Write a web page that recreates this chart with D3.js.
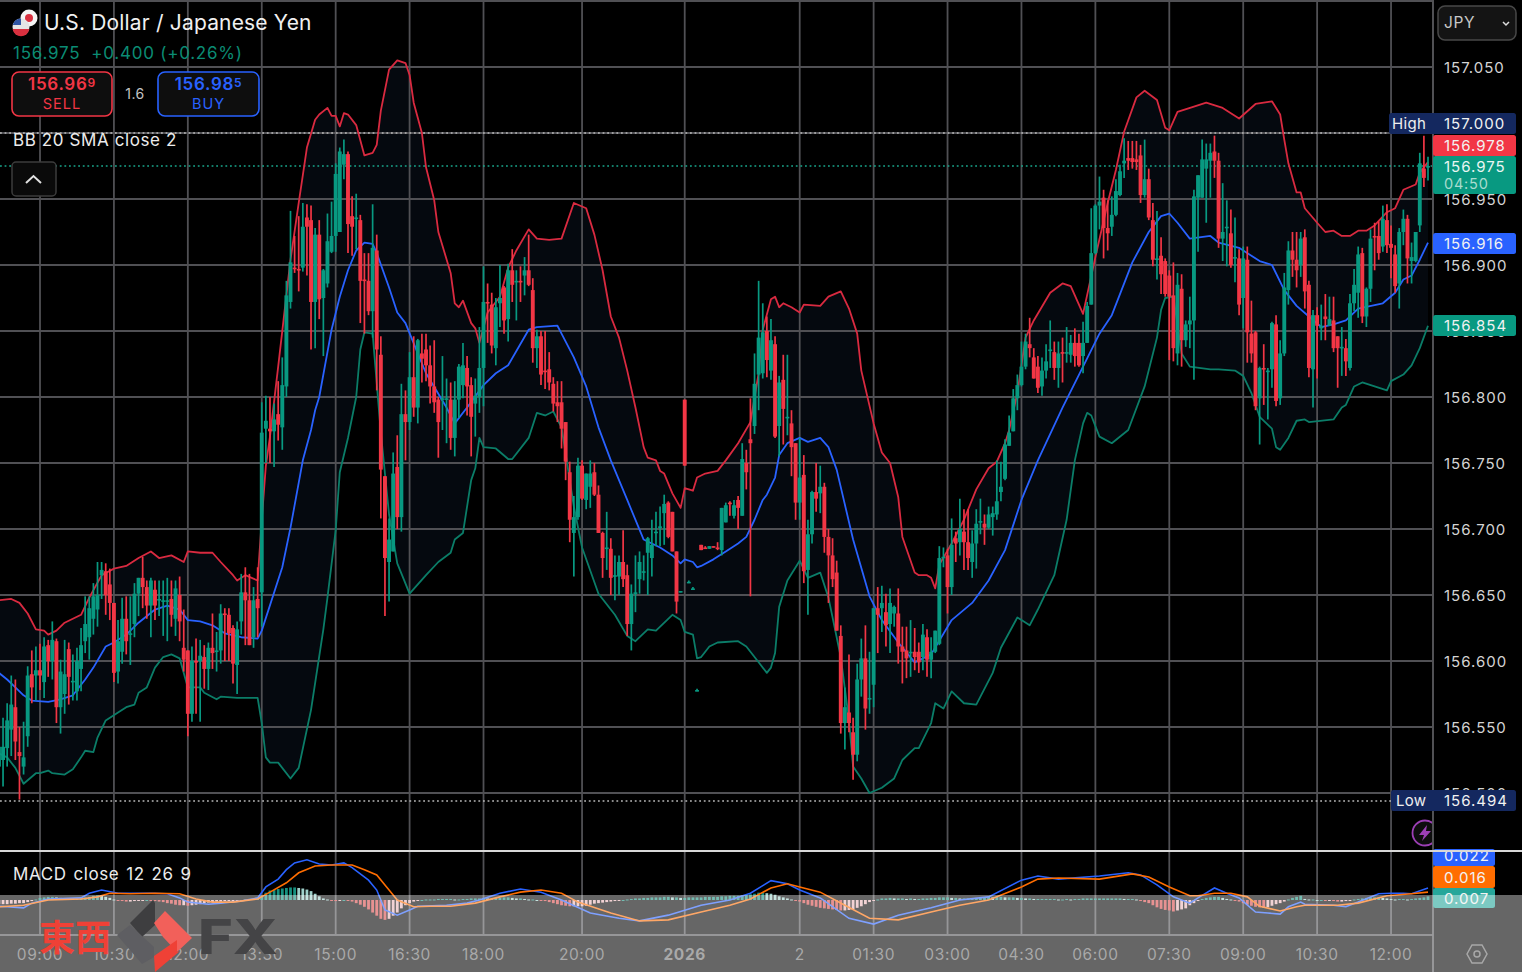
<!DOCTYPE html>
<html>
<head>
<meta charset="utf-8">
<title>USD/JPY</title>
<script src="https://cdn.jsdelivr.net/npm/d3@7"></script>
<style>
  html, body { margin: 0; padding: 0; background: #000; }
  svg { display: block; font-family: Inter, "Noto Sans", sans-serif; }
</style>
</head>
<body>
<svg id="chart" width="1522" height="972"></svg>
<script>
// Prices are kept in points above 156 yen (825 = 156.825), one bar = 5 minutes
const opens = [
  520,525,534,548,565,531,520,543,590,589, 593,584,612,600,615,565,575,609,584,577,
  594,615,618,632,639,665,668,658,644,592, 607,632,620,628,651,663,656,642,654,646,
  645,645,647,632,650,610,608,560,600,600, 603,594,610,607,608,636,635,625,597,630,
  652,646,618,647,652,776,776,774,787,777, 808,872,898,897,898,936,934,872,923,875,
  886,910,922,925,976,984,937,935,934,889, 888,865,911,832,740,675,683,747,709,787,
  781,815,792,833,836,824,808,798,798,798, 798,769,798,809,822,809,795,800,822,872,
  870,837,871,883,859,896,887,888,892,896, 881,837,846,820,821,810,796,796,781,743,
  697,709,748,722,732,743,726,697,685,685, 664,664,675,665,628,651,662,667,682,678,
  697,701,712,720,713,683,652,798,659,654, 577,688,686,685,687,686,684,705,720,710,
  722,710,750,768,778,817,818,850,820,840, 778,813,784,780,765,720,741,669,696,728,
  727,732,694,680,667,619,553,561,546,529, 586,602,571,582,640,640,637,628,636,636,
  611,608,606,607,607,603,618,601,607,613, 678,680,656,693,690,698,690,675,689,705,
  704,701,709,711,728,738,763,774,799,809, 823,840,830,823,808,820,835,834,822,834,
  833,832,841,841,831,841,870,909,945,951, 928,929,938,953,977,981,981,980,983,953,
  965,934,904,907,903,892,877,833,882,843, 855,858,951,951,973,979,986,979,920,928,
  924,905,905,875,904,848,849,799,822,819, 821,855,799,833,881,911,904,900,921,885,
  821,862,852,861,854,858,846,837,837,822, 871,879,909,861,882,922,922,914,934,916,
  908,886,925,935,903,903,930,973,974
];
const closes = [
  535,535,555,567,539,528,527,589,580,593, 589,611,600,616,565,592,590,588,585,600,
  612,628,640,649,650,669,650,644,591,615, 632,615,621,651,663,656,642,661,642,647,
  646,646,635,655,630,601,560,600,599,604, 594,610,606,608,636,635,621,598,624,652,
  646,612,646,640,773,782,774,783,779,809, 877,902,897,896,929,929,872,923,874,896,
  918,922,969,986,984,931,929,936,888,888, 865,913,836,745,678,692,742,709,787,781,
  815,792,843,829,824,808,796,781,799,799, 769,798,823,824,808,785,801,822,872,871,
  839,868,875,858,896,885,888,887,896,885, 837,846,817,819,811,795,793,776,751,707,
  709,748,723,742,742,726,697,678,686,663, 665,675,662,628,651,652,675,668,693,688,
  698,702,719,694,683,645,653,748,660,655, 578,684,685,687,686,685,716,718,719,718,
  716,753,743,765,810,845,849,828,843,770, 811,791,785,762,720,739,668,696,728,723,
  732,694,680,662,623,553,565,553,529,586, 602,564,572,640,635,644,627,644,641,611,
  607,602,607,603,599,620,601,607,623,678, 679,656,688,689,700,690,678,689,704,706,
  701,711,712,721,732,764,773,799,809,823, 842,837,814,807,820,827,836,822,833,833,
  834,841,831,824,841,869,909,945,948,928, 924,938,956,971,979,979,978,978,953,965,
  936,904,905,893,878,876,837,885,843,855, 858,952,968,980,980,985,979,920,925,929,
  900,906,870,905,849,833,793,822,821,820, 856,797,833,883,911,904,896,920,880,822,
  862,854,854,859,859,837,837,838,827,871, 885,908,861,882,920,921,909,935,915,913,
  884,925,935,905,906,925,977,966,975
];
const highs = [
  555,557,568,589,586,550,554,596,608,611, 613,618,616,630,617,601,616,614,605,610,
  625,649,649,659,675,675,674,670,644,631, 648,649,649,659,663,679,661,663,661,661,
  661,663,661,661,664,639,608,611,617,616, 612,614,636,622,643,640,640,627,630,666,
  671,666,656,671,796,801,800,795,812,830, 888,941,922,937,947,946,945,928,934,897,
  939,948,977,989,995,986,952,954,938,909, 909,946,923,846,740,708,758,771,810,805,
  834,846,844,848,848,839,843,800,831,814, 811,812,825,841,831,815,814,853,899,886,
  879,875,900,884,901,912,896,899,906,923, 890,851,850,850,834,815,812,812,781,751,
  725,754,752,742,752,750,733,698,713,693, 680,680,699,673,658,680,683,680,694,707,
  713,717,726,721,713,683,653,798,661,656, 579,688,687,687,687,690,716,720,721,722,
  725,765,760,799,833,888,871,861,859,846, 816,832,832,790,765,769,756,707,729,750,
  748,735,700,693,676,627,580,605,557,598, 617,627,607,640,656,657,651,655,642,655,
  626,626,631,625,614,628,624,618,623,687, 686,685,708,698,723,715,715,699,715,723,
  711,717,717,752,751,768,786,806,817,842, 848,860,837,831,830,840,858,842,842,845,
  853,847,852,848,857,872,943,946,967,957, 949,952,965,976,996,994,994,994,991,995,
  973,947,941,921,905,896,902,894,893,858, 876,957,968,995,992,992,998,985,962,949,
  942,936,912,914,914,873,850,823,840,822, 857,862,843,894,918,925,925,925,927,888,
  866,868,870,878,876,876,846,853,844,878, 897,914,913,883,927,932,933,945,946,930,
  915,928,942,938,917,925,985,998,982
];
const lows = [
  505,505,520,528,525,495,514,535,568,570, 578,572,588,586,553,545,560,567,570,570,
  577,606,601,620,626,647,635,631,584,583, 598,605,597,618,634,640,632,618,631,634,
  619,615,626,619,615,592,543,554,560,554, 579,578,594,592,598,600,600,583,575,620,
  612,612,610,618,626,750,750,747,767,760, 800,867,894,880,895,892,836,837,859,831,
  883,909,910,925,965,909,907,912,856,848, 862,845,805,708,634,645,683,700,698,752,
  775,785,780,811,812,795,788,754,775,765, 760,755,784,799,786,755,770,788,793,841,
  833,824,853,848,842,872,858,872,877,884, 826,822,809,806,805,789,781,761,737,690,
  664,707,722,715,716,725,697,663,669,650, 646,650,656,619,608,637,651,661,650,664,
  687,687,688,693,683,636,652,748,659,654, 577,684,685,685,686,684,680,705,710,708,
  700,710,730,649,772,790,814,815,813,769, 755,764,771,740,707,707,659,635,689,713,
  712,682,644,656,623,545,533,546,510,524, 573,548,560,565,606,622,611,606,626,598,
  583,587,588,593,591,593,588,587,606,612, 671,636,650,675,680,669,669,663,670,696,
  688,700,695,707,721,737,763,774,790,808, 821,830,814,803,801,814,822,813,807,811,
  826,826,823,823,818,841,870,908,927,905, 911,922,937,952,966,972,973,972,947,951,
  934,899,889,878,876,828,827,824,823,838, 837,813,910,951,932,951,966,913,903,899,
  898,887,862,852,826,826,790,764,794,783, 807,793,794,831,870,891,883,891,867,815,
  792,814,843,843,854,834,807,816,816,820, 865,860,856,853,872,896,904,910,909,890,
  879,867,915,886,886,902,925,959,964
];

// Bollinger bands, [bar, price points]
const bbUpper = [[0,646],[3,647],[5,644],[7,636],[9,624],[11,623],[12,620],[14,623],[16,629],[20,635],[22,648],[25,665],[28,670],[31,672],[34,678],[37,683],[39,678],[42,680],[45,675],[46,683],[49,682],[52,682],[54,675],[57,665],[58,661],[60,665],[63,661],[64,707],[65,748],[66,770],[68,823],[71,904],[73,947],[75,989],[77,1010],[78,1014],[80,1019],[81,1013],[82,1013],[83,1005],[84,1015],[85,1014],[87,1006],[89,983],[91,985],[92,991],[93,1017],[95,1048],[97,1055],[99,1053],[100,1044],[101,1023],[103,1000],[104,974],[106,949],[107,925],[110,894],[111,871],[112,868],[113,873],[115,856],[116,852],[117,841],[119,864],[122,876],[124,898],[126,911],[129,927],[131,920],[134,919],[137,920],[140,947],[143,943],[145,923],[147,896],[149,861],[151,845],[153,820],[155,792],[157,762],[158,754],[160,752],[161,744],[162,742],[164,727],[166,716],[167,731],[169,729],[170,739],[172,742],[175,744],[177,752],[180,765],[183,781],[185,818],[186,851],[188,874],[189,876],[190,868],[191,871],[193,868],[195,864],[196,870],[200,869],[202,876],[205,880],[207,867],[209,848],[210,820],[213,780],[215,758],[217,750],[219,724],[220,694],[223,667],[224,665],[226,665],[227,663],[228,655],[229,673],[232,689],[235,707],[238,730],[241,746],[243,751],[245,765],[246,775],[248,803],[250,845],[252,858],[256,879],[259,886],[261,884],[264,863],[267,906],[270,947],[272,972],[274,1001],[277,1027],[279,1032],[282,1025],[284,1004],[285,1002],[287,1016],[291,1020],[294,1023],[298,1019],[302,1011],[306,1022],[310,1024],[312,1014],[313,995],[314,977],[316,955],[317,955],[318,943],[321,932],[323,925],[325,926],[327,922],[329,922],[331,926],[333,926],[335,930],[338,940],[340,943],[342,957],[345,961],[346,970],[348,978]];
const bbBasis = [[0,591],[2,586],[4,580],[6,574],[8,570],[12,569],[15,571],[18,574],[21,586],[23,595],[26,611],[28,614],[31,620],[34,629],[38,639],[41,642],[44,639],[46,631],[49,630],[52,627],[55,621],[59,618],[63,617],[64,623],[69,671],[71,701],[74,752],[76,775],[77,790],[78,800],[81,851],[83,876],[85,896],[87,911],[89,917],[91,916],[92,909],[95,883],[97,864],[99,856],[102,833],[104,818],[109,792],[111,780],[114,792],[118,809],[121,818],[124,824],[129,851],[131,853],[136,854],[137,848],[140,830],[143,808],[146,777],[149,752],[153,722],[157,692],[161,686],[164,680],[166,674],[167,677],[169,675],[170,671],[171,672],[174,677],[177,683],[180,689],[182,694],[184,707],[186,722],[187,726],[189,739],[190,756],[192,765],[195,769],[197,766],[200,769],[202,762],[204,745],[208,692],[212,649],[215,631],[219,614],[223,599],[227,605],[232,631],[237,644],[241,661],[245,684],[249,722],[253,752],[259,792],[264,823],[268,848],[271,862],[276,902],[280,925],[283,937],[285,939],[287,932],[290,920],[295,922],[297,917],[302,913],[303,911],[307,903],[310,900],[313,881],[316,869],[319,861],[322,853],[325,855],[328,858],[331,867],[337,871],[340,879],[342,889],[344,892],[346,904],[348,917]];
const bbLower = [[0,530],[2,527],[4,519],[6,507],[9,515],[10,515],[12,517],[13,515],[16,514],[18,518],[20,527],[21,532],[23,531],[24,542],[26,555],[29,561],[31,565],[33,567],[34,576],[36,580],[38,595],[40,603],[42,605],[44,602],[46,580],[49,580],[50,576],[53,571],[54,573],[58,572],[63,572],[64,553],[65,527],[66,523],[68,523],[71,511],[73,519],[76,563],[79,624],[80,648],[82,699],[83,743],[85,769],[87,800],[88,836],[89,849],[91,848],[93,773],[95,711],[97,674],[100,651],[104,665],[107,675],[110,682],[111,692],[113,697],[115,737],[116,746],[117,769],[118,762],[121,761],[124,753],[125,753],[129,769],[131,788],[133,786],[135,789],[137,777],[140,717],[142,686],[146,651],[150,635],[153,619],[155,615],[158,624],[160,623],[164,635],[166,631],[167,622],[169,620],[170,602],[171,603],[173,611],[175,614],[180,615],[182,611],[185,599],[187,591],[188,595],[189,606],[190,641],[192,661],[195,676],[197,663],[200,667],[202,648],[205,603],[207,555],[208,520],[210,511],[212,500],[215,504],[218,511],[220,525],[223,534],[224,534],[227,553],[228,568],[230,564],[232,577],[235,568],[238,567],[242,591],[244,610],[248,633],[249,631],[251,627],[253,639],[257,665],[260,707],[262,752],[264,780],[265,788],[266,786],[268,770],[271,765],[275,775],[279,808],[282,845],[283,866],[284,875],[286,876],[288,833],[290,823],[295,821],[297,821],[301,820],[303,816],[305,803],[307,785],[310,776],[311,762],[312,760],[314,769],[316,782],[318,783],[319,781],[325,783],[327,792],[328,794],[330,808],[332,811],[338,805],[339,812],[342,817],[344,824],[346,837],[348,854]];

// MACD pane, thousandths of a yen
const macdLine = [[0,-12],[2,-13],[6,-15],[8,-6],[12,2],[20,4],[22,13],[25,19],[29,13],[32,13],[37,13],[41,12],[44,4],[46,-4],[51,-8],[54,-6],[59,-2],[63,4],[65,25],[68,40],[70,58],[72,71],[75,77],[78,69],[81,67],[84,71],[86,62],[90,38],[92,19],[94,-19],[97,-29],[100,-19],[102,-12],[109,-10],[114,-6],[117,0],[122,13],[127,21],[132,15],[137,0],[144,-25],[151,-35],[156,-40],[163,-29],[171,-10],[178,0],[183,13],[188,37],[192,31],[195,19],[200,4],[207,-35],[213,-46],[219,-29],[227,-15],[234,0],[241,6],[249,38],[253,46],[258,40],[268,46],[275,52],[278,48],[282,29],[286,6],[290,-6],[292,4],[296,23],[299,13],[302,4],[306,-23],[309,-25],[312,-27],[314,-13],[317,-4],[318,-8],[325,-10],[328,-13],[331,-4],[336,12],[339,13],[342,13],[344,12],[348,23]];
const macdSignal = [[0,-13],[6,-10],[12,0],[20,2],[24,6],[27,13],[32,12],[38,13],[44,12],[48,2],[52,-4],[57,-4],[63,2],[66,15],[70,33],[73,52],[77,65],[81,67],[86,67],[89,58],[92,48],[95,19],[97,0],[101,-13],[105,-12],[110,-12],[116,-6],[122,6],[127,15],[132,19],[137,13],[141,-4],[149,-25],[156,-40],[163,-38],[171,-23],[178,-10],[183,2],[188,23],[192,31],[195,25],[200,15],[206,-10],[212,-35],[219,-38],[227,-23],[234,-10],[241,0],[249,25],[253,40],[258,42],[268,40],[276,50],[280,44],[285,25],[290,8],[292,8],[296,13],[300,13],[304,6],[307,-12],[312,-21],[316,-13],[318,-10],[326,-10],[331,-6],[338,8],[344,12],[348,15]];
const macdHist = [
  -8,-8,-8,-7,-7,-6,-6,-4,-2,1, 4,5,6,6,5,4,3,3,3,3, 4,5,6,8,9,8,6,4,1,-1,
  -2,-3,-3,-2,-1,-1,0,-1,-2,-3, -4,-6,-7,-9,-10,-10,-11,-10,-9,-8, -6,-5,-4,-3,-3,-2,-2,-1,-1,0,
  1,2,2,3,8,14,18,19,21,22, 23,24,24,23,22,20,17,12,7,3, 1,-1,-2,-1,0,-1,-3,-6,-9,-13,
  -18,-24,-30,-36,-38,-36,-30,-24,-16,-10, -6,-3,-1,0,1,1,1,2,2,2, 2,1,1,2,2,3,3,3,4,3,
  3,4,4,5,5,4,3,3,2,1, 1,0,-1,-2,-4,-6,-8,-10,-11,-12, -12,-12,-12,-11,-9,-7,-6,-5,-4,-3,
  -2,-1,0,1,2,3,3,4,4,5, 5,5,6,6,5,5,4,4,5,5, 5,5,6,6,6,6,7,7,8,8,
  8,9,10,11,12,14,14,13,12,10, 7,5,3,1,-1,-3,-6,-9,-11,-13, -15,-16,-17,-18,-19,-20,-20,-19,-18,-15,
  -12,-8,-4,-1,1,3,3,4,3,3, 3,2,3,2,2,3,3,4,4,5, 5,5,4,4,3,3,3,3,4,5,
  5,6,5,6,6,5,5,5,4,4, 3,3,2,2,2,2,2,2,1,1, 2,1,2,2,3,3,3,3,3,3,
  3,3,3,3,2,2,2,1,-2,-4, -6,-10,-14,-17,-19,-20,-22,-20,-18,-16, -10,-6,-2,2,4,5,6,6,4,2,
  1,-1,-3,-6,-9,-11,-13,-14,-15,-14, -11,-8,-6,-3,1,4,6,8,2,1, 1,0,0,-1,-1,-2,-3,-3,-2,-1,
  1,2,3,4,5,5,5,4,3,2, 1,2,2,1,2,3,4,5,7
];

// Axes
const priceTicks = [1050, 950, 900, 850, 800, 750, 700, 650, 600, 550, 500];
const gridPrices = [1050, 1000, 950, 900, 850, 800, 750, 700, 650, 600, 550, 500];
const timeTickBars = [10, 28, 46, 64, 82, 100, 118, 142, 167, 195, 213, 231, 249, 267, 285, 303, 321, 339];
const timeTickLabels = ["09:00", "10:30", "12:00", "13:30", "15:00", "16:30", "18:00", "20:00", "2026", "2", "01:30", "03:00", "04:30", "06:00", "07:30", "09:00", "10:30", "12:00"];

const RED = "#f23645", GREEN = "#089981", BLUE = "#2962ff", ORANGE = "#ff6d00";
const GRID = "#505054";
const fmt = v => (156 + v / 1000).toFixed(3);

const svg = d3.select("#chart");
const x = d3.scaleLinear().domain([0, 348]).range([-1.06, 1428]);
const y = d3.scaleLinear().domain([500, 1050]).range([793, 67]);
const yMacd = d3.scaleLinear().domain([0, 22]).range([900, 888.5]);

svg.append("rect").attr("width", 1522).attr("height", 972).attr("fill", "#000");
svg.append("clipPath").attr("id", "pane").append("rect").attr("width", 1432).attr("height", 850);
svg.append("clipPath").attr("id", "macdPane").append("rect").attr("y", 852).attr("width", 1432).attr("height", 84);

const priceLine = d3.line().x(d => x(d[0])).y(d => y(d[1]));
const macdPath = d3.line().x(d => x(d[0])).y(d => yMacd(d[1]));
const main = svg.append("g").attr("clip-path", "url(#pane)");

// band fill
main.append("path")
  .attr("d", priceLine(bbUpper.concat(bbLower.slice().reverse())) + "Z")
  .attr("fill", "#05090f");

// grid
svg.append("g").selectAll("line").data(gridPrices).join("line")
  .attr("x1", 0).attr("x2", 1432)
  .attr("y1", d => y(d)).attr("y2", d => y(d))
  .attr("stroke", GRID).attr("stroke-width", 1.8);
svg.append("g").selectAll("line").data(timeTickBars).join("line")
  .attr("x1", d => x(d)).attr("x2", d => x(d))
  .attr("y1", 0).attr("y2", 935)
  .attr("stroke", GRID).attr("stroke-width", 1.8);
svg.append("line").attr("x1", 0).attr("x2", 1432).attr("y1", 1).attr("y2", 1).attr("stroke", GRID).attr("stroke-width", 1.8);
svg.append("line").attr("x1", 0).attr("x2", 1433).attr("y1", 935).attr("y2", 935).attr("stroke", GRID).attr("stroke-width", 1.8);

// high, low and last price lines
const refLines = [[1000, "#b8b8b8", 1389], [975, "#19a68c", 1432], [494, "#b8b8b8", 1391]];
svg.append("g").selectAll("line").data(refLines).join("line")
  .attr("x1", 0).attr("x2", d => d[2])
  .attr("y1", d => y(d[0])).attr("y2", d => y(d[0]))
  .attr("stroke", d => d[1]).attr("stroke-width", 1.5).attr("stroke-dasharray", "1.8 2.8");

const chartG = svg.append("g").attr("clip-path", "url(#pane)");

// bollinger lines
[[bbUpper, "#d92a40"], [bbLower, "#0b7d68"], [bbBasis, BLUE]].forEach(([data, color]) => {
  chartG.append("path").attr("d", priceLine(data))
    .attr("fill", "none").attr("stroke", color).attr("stroke-width", 1.8).attr("stroke-linejoin", "round");
});

// candles
const bars = d3.range(opens.length);
const barColor = i => closes[i] >= opens[i] ? GREEN : RED;
chartG.append("g").selectAll("line").data(bars).join("line")
  .attr("x1", i => x(i)).attr("x2", i => x(i))
  .attr("y1", i => y(highs[i])).attr("y2", i => y(lows[i]))
  .attr("stroke", barColor).attr("stroke-width", 1.7);
chartG.append("g").selectAll("rect").data(bars).join("rect")
  .attr("x", i => x(i) - 1.95).attr("width", 3.9)
  .attr("y", i => y(Math.max(opens[i], closes[i])))
  .attr("height", i => Math.max(1.6, Math.abs(y(opens[i]) - y(closes[i]))))
  .attr("fill", barColor);

// purple alert badge at the pane edge
const badge = chartG.append("g").attr("transform", "translate(1425,833)");
badge.append("circle").attr("r", 12.5).attr("fill", "#0d0d0d").attr("stroke", "#9c3fb5").attr("stroke-width", 1.8);
badge.append("path").attr("d", "M2,-8 L-6,2 L-1,2 L-3,8 L6,-2 L1,-2 Z").attr("fill", "#9c3fb5");

// macd pane
const macdG = svg.append("g").attr("clip-path", "url(#macdPane)");
macdG.append("g").selectAll("rect").data(macdHist).join("rect")
  .attr("x", (d, i) => x(i) - 1.4).attr("width", 2.8)
  .attr("y", d => Math.min(yMacd(d), yMacd(0)))
  .attr("height", d => Math.max(1, Math.abs(yMacd(d) - yMacd(0))))
  .attr("fill", (d, i) => {
    const prev = i ? macdHist[i - 1] : d;
    if (d >= 0) return d >= prev ? "#16907f" : "#9fd0ca";
    return d < prev ? "#d84a4a" : "#e8b4b8";
  });
macdG.append("path").attr("d", macdPath(macdLine)).attr("fill", "none").attr("stroke", BLUE).attr("stroke-width", 1.6);
macdG.append("path").attr("d", macdPath(macdSignal)).attr("fill", "none").attr("stroke", ORANGE).attr("stroke-width", 1.6);

// frame
svg.append("line").attr("x1", 1433).attr("x2", 1433).attr("y1", 0).attr("y2", 972).attr("stroke", "#5a5a5e").attr("stroke-width", 1.8);

// price axis
svg.append("g").selectAll("text").data(priceTicks).join("text")
  .attr("x", 1444).attr("y", d => y(d) + 5.5)
  .attr("fill", "#d4d4d4").attr("font-size", 15).attr("letter-spacing", 1)
  .text(fmt);

// time axis
svg.append("g").selectAll("text").data(timeTickBars).join("text")
  .attr("x", d => x(d)).attr("y", 960).attr("text-anchor", "middle")
  .attr("fill", "#707070").attr("font-size", 15.5).attr("letter-spacing", 0.6)
  .attr("font-weight", (d, i) => timeTickLabels[i] === "2026" ? 700 : 400)
  .text((d, i) => timeTickLabels[i]);

// price tags
function tag(x0, y0, w, h, fill, label) {
  svg.append("rect").attr("x", x0).attr("y", y0).attr("width", w).attr("height", h).attr("rx", 2.5).attr("fill", fill);
  if (label) svg.append("text").attr("x", 1444).attr("y", y0 + h / 2 + 5.5)
    .attr("fill", "#f2f2f2").attr("font-size", 15).attr("letter-spacing", 1).text(label);
}
tag(1389, 113, 127, 21, "#14285f", "157.000");
svg.append("text").attr("x", 1392).attr("y", 129).attr("fill", "#eee").attr("font-size", 15).attr("letter-spacing", 0.3).text("High");
tag(1433, 135, 83, 21, RED, "156.978");
tag(1433, 156, 83, 38, GREEN, null);
svg.append("text").attr("x", 1444).attr("y", 172).attr("fill", "#eaf6f3").attr("font-size", 15).attr("letter-spacing", 1).text("156.975");
svg.append("text").attr("x", 1444).attr("y", 189).attr("fill", "#a8dccf").attr("font-size", 14.5).attr("letter-spacing", 0.8).text("04:50");
tag(1433, 233, 83, 21, BLUE, "156.916");
tag(1433, 315, 83, 21, GREEN, "156.854");
tag(1391, 790, 125, 21, "#14285f", "156.494");
svg.append("text").attr("x", 1396).attr("y", 806).attr("fill", "#eee").attr("font-size", 15).attr("letter-spacing", 0.3).text("Low");
tag(1433, 849, 62, 17, BLUE, null);
svg.append("text").attr("x", 1444).attr("y", 861).attr("fill", "#f2f2f2").attr("font-size", 15).attr("letter-spacing", 1).text("0.022");
tag(1433, 866, 62, 22, ORANGE, "0.016");
tag(1433, 888, 62, 20, "#26a69a", "0.007");

// translucent band over the bottom of the picture
svg.append("rect").attr("y", 895).attr("width", 1522).attr("height", 77).attr("fill", "#fff").attr("fill-opacity", 0.4);
svg.append("line").attr("x1", 0).attr("x2", 1522).attr("y1", 851).attr("y2", 851).attr("stroke", "#d8d8d8").attr("stroke-width", 2);

// watermark
svg.append("text").attr("x", 39).attr("y", 951).attr("fill", "#ef4136")
  .attr("font-family", '"Noto Sans CJK TC"').attr("font-weight", 700).attr("font-size", 36).text("東西");
const logo = [
  ["130,923 153,900 155,903 155,925 142,937", "#3e3e40"],
  ["117,935 130,925 154,947 154,957 142,964", "#5e5e62"],
  ["154,923 165,911 192,938 177,952 163,937", "#f2605a"],
  ["154,956 177,940 177,952 180,951 155,972", "#ef4136"]
];
svg.append("g").selectAll("polygon").data(logo).join("polygon")
  .attr("points", d => d[0]).attr("fill", d => d[1]);
svg.append("text").attr("x", 198).attr("y", 954).attr("fill", "#444446")
  .attr("font-family", "Inter").attr("font-weight", 800).attr("font-size", 48)
  .attr("textLength", 80).attr("lengthAdjust", "spacingAndGlyphs").text("FX");

// settings hexagon
svg.append("polygon").attr("points", "1467,954 1472,945 1482,945 1487,954 1482,963 1472,963")
  .attr("fill", "none").attr("stroke", "#a8a8a8").attr("stroke-width", 1.5);
svg.append("circle").attr("cx", 1477).attr("cy", 954).attr("r", 3).attr("fill", "none").attr("stroke", "#a8a8a8").attr("stroke-width", 1.5);

// currency button
svg.append("rect").attr("x", 1438).attr("y", 6).attr("width", 78).attr("height", 34).attr("rx", 7)
  .attr("fill", "#141414").attr("stroke", "#484848").attr("stroke-width", 1.5);
svg.append("text").attr("x", 1444).attr("y", 28).attr("fill", "#c8c8c8").attr("font-size", 15.5).attr("letter-spacing", 0.6).text("JPY");
svg.append("path").attr("d", "M1503,22 L1506,25 L1509,22").attr("fill", "none").attr("stroke", "#ddd").attr("stroke-width", 1.5);

// header
const flag = svg.append("g");
flag.append("circle").attr("cx", 29).attr("cy", 18).attr("r", 8.5).attr("fill", "#f4f4f4");
flag.append("circle").attr("cx", 29).attr("cy", 18).attr("r", 4).attr("fill", "#d9303f");
flag.append("circle").attr("cx", 21).attr("cy", 27).attr("r", 8.5).attr("fill", "#e5e5e5");
flag.append("path").attr("d", "M12.8,25 A8.5,8.5 0 0 1 21,18.5 L21,25 Z").attr("fill", "#2f55a4");
flag.append("path").attr("d", "M12.6,29 L29.4,29 A8.5,8.5 0 0 1 12.6,29 Z").attr("fill", "#d9303f");

svg.append("text").attr("x", 44).attr("y", 30).attr("fill", "#f0f0f0").attr("font-size", 21).attr("letter-spacing", 0.17).text("U.S. Dollar / Japanese Yen");
svg.append("text").attr("x", 13).attr("y", 59).attr("fill", "#0b8c74").attr("font-size", 17).attr("letter-spacing", 0.75)
  .text("156.975\u00a0 +0.400 (+0.26%)");

function quoteBox(x0, w, color, main, sup, label) {
  svg.append("rect").attr("x", x0).attr("y", 72).attr("width", w).attr("height", 44).attr("rx", 7)
    .attr("fill", "#0e0e0e").attr("stroke", color).attr("stroke-width", 1.6);
  const t = svg.append("text").attr("x", x0 + w / 2).attr("y", 90).attr("text-anchor", "middle")
    .attr("fill", color).attr("font-weight", 600).attr("font-size", 17).attr("letter-spacing", 0.7);
  t.append("tspan").text(main);
  t.append("tspan").attr("font-size", 12).attr("dy", -3).text(sup);
  svg.append("text").attr("x", x0 + w / 2).attr("y", 109).attr("text-anchor", "middle")
    .attr("fill", color).attr("font-size", 14.5).attr("letter-spacing", 1).text(label);
}
quoteBox(12, 100, RED, "156.96", "9", "SELL");
quoteBox(158, 101, BLUE, "156.98", "5", "BUY");
svg.append("text").attr("x", 135).attr("y", 99).attr("text-anchor", "middle").attr("fill", "#c4c4c4").attr("font-size", 14).attr("letter-spacing", 0.5).text("1.6");

svg.append("text").attr("x", 13).attr("y", 146).attr("fill", "#ececec").attr("font-size", 17).attr("letter-spacing", 0.6).text("BB 20 SMA close 2");
svg.append("rect").attr("x", 12).attr("y", 162).attr("width", 44).attr("height", 34).attr("rx", 4)
  .attr("fill", "#0a0a0a").attr("stroke", "#3c3c3c").attr("stroke-width", 1.5);
svg.append("path").attr("d", "M26,183 L33.5,176 L41,183").attr("fill", "none").attr("stroke", "#e0e0e0").attr("stroke-width", 2);
svg.append("text").attr("x", 13).attr("y", 880).attr("fill", "#ececec").attr("font-size", 17).attr("letter-spacing", 0.6).attr("word-spacing", 1.5).text("MACD close 12 26 9");
</script>
</body>
</html>
